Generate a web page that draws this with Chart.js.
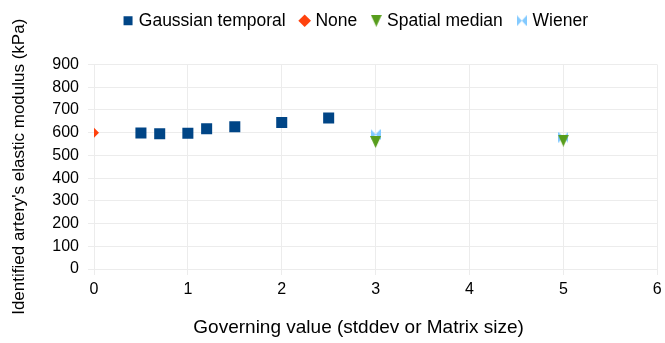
<!DOCTYPE html>
<html>
<head>
<meta charset="utf-8">
<script src="https://cdn.jsdelivr.net/npm/chart.js@4/dist/chart.umd.min.js"></script>
<style>
  html, body { margin: 0; padding: 0; background: #ffffff; }
  #wrap { width: 665px; height: 343px; }
</style>
</head>
<body>
<div id="wrap"><canvas id="chart" width="665" height="343"></canvas></div>
<script>
// Identified elastic modulus for each filter against its governing value
const gaussianX = [0.5, 0.7, 1.0, 1.2, 1.5, 2.0, 2.5];
const gaussianY = [599, 595, 597, 617, 626, 645, 665];
const noneX = [0];
const noneY = [600];
const medianX = [3, 5];
const medianY = [559, 565];
const wienerX = [3, 5];
const wienerY = [592, 580];

const xTicks = [0, 1, 2, 3, 4, 5, 6];
const yTicks = [0, 100, 200, 300, 400, 500, 600, 700, 800, 900];

const seriesNames = ['Gaussian temporal', 'None', 'Spatial median', 'Wiener'];
const seriesColors = ['#004586', '#ff420e', '#579d1c', '#83caff'];

const FONT = "'Liberation Sans', Arial, sans-serif";

function toPoints(xs, ys) {
  return xs.map((x, i) => ({ x: x, y: ys[i] }));
}

// Downward triangle symbol, centred in its bounding box
function triangleSymbol(color, w, h) {
  const c = document.createElement('canvas');
  c.width = w; c.height = h;
  const g = c.getContext('2d');
  g.fillStyle = color;
  g.beginPath();
  g.moveTo(0, 0);
  g.lineTo(w, 0);
  g.lineTo(w / 2, h);
  g.closePath();
  g.fill();
  return c;
}

// Bow-tie symbol: two triangles pointing towards the centre
function bowtieSymbol(color, w, h) {
  const c = document.createElement('canvas');
  c.width = w; c.height = h;
  const g = c.getContext('2d');
  g.fillStyle = color;
  g.beginPath();
  g.moveTo(0, 0);
  g.lineTo(w / 2, h / 2);
  g.lineTo(0, h);
  g.closePath();
  g.moveTo(w, 0);
  g.lineTo(w / 2, h / 2);
  g.lineTo(w, h);
  g.closePath();
  g.fill();
  return c;
}

const medianSymbol = triangleSymbol(seriesColors[2], 11, 12);
const wienerSymbol = bowtieSymbol(seriesColors[3], 10, 11);

// Moves the legend block after layout: centred over the plot, close to the top edge
const legendOffset = {
  id: 'legendOffset',
  afterLayout(chart) {
    const lg = chart.legend;
    if (!lg) return;
    const dx = 27, dy = -25;
    lg.left += dx; lg.right += dx;
    lg.top += dy; lg.bottom += dy;
  }
};

// Shifts an axis title sideways when it is drawn
function shiftTitle(axis, dx) {
  if (axis._titleShifted) return;
  const original = axis.drawTitle.bind(axis);
  axis.drawTitle = function () {
    const ctx = this.ctx;
    ctx.save();
    ctx.translate(dx, 0);
    original();
    ctx.restore();
  };
  axis._titleShifted = true;
}

const data = {
  datasets: [
    {
      label: seriesNames[0],
      data: toPoints(gaussianX, gaussianY),
      pointStyle: 'rect',
      pointRadius: 7.8,
      pointHoverRadius: 7.8,
      backgroundColor: seriesColors[0],
      borderColor: seriesColors[0],
      borderWidth: 0
    },
    {
      label: seriesNames[1],
      data: toPoints(noneX, noneY),
      pointStyle: 'rectRot',
      pointRadius: 5,
      pointHoverRadius: 5,
      backgroundColor: seriesColors[1],
      borderColor: seriesColors[1],
      borderWidth: 0
    },
    {
      label: seriesNames[2],
      data: toPoints(medianX, medianY),
      pointStyle: medianSymbol,
      backgroundColor: seriesColors[2],
      borderColor: seriesColors[2],
      borderWidth: 0
    },
    {
      label: seriesNames[3],
      data: toPoints(wienerX, wienerY),
      pointStyle: wienerSymbol,
      backgroundColor: seriesColors[3],
      borderColor: seriesColors[3],
      borderWidth: 0
    }
  ]
};

const chart = new Chart(document.getElementById('chart'), {
  type: 'scatter',
  data: data,
  plugins: [legendOffset],
  options: {
    responsive: false,
    animation: false,
    events: [],
    layout: { padding: { top: 20, right: 5, left: 0, bottom: 4 } },
    plugins: {
      tooltip: { enabled: false },
      legend: {
        position: 'top',
        align: 'center',
        labels: {
          usePointStyle: true,
          boxWidth: 4,
          boxHeight: 9,
          padding: 17,
          color: '#000000',
          font: { family: FONT, size: 17.5 }
        }
      }
    },
    scales: {
      x: {
        type: 'linear',
        min: 0,
        max: 6,
        afterBuildTicks: (axis) => { axis.ticks = xTicks.map(v => ({ value: v })); },
        afterFit: (axis) => {
          axis.height = 70;
          axis.paddingRight = 0;
          shiftTitle(axis, -17);
        },
        grid: { color: '#ececec', tickLength: 6, drawTicks: true },
        border: { color: '#ececec' },
        ticks: {
          color: '#000000',
          padding: 5,
          font: { family: FONT, size: 16 }
        },
        title: {
          display: true,
          text: 'Governing value (stddev or Matrix size)',
          color: '#000000',
          font: { family: FONT, size: 19 },
          padding: { top: 7, bottom: 0 }
        }
      },
      y: {
        type: 'linear',
        min: 0,
        max: 900,
        afterBuildTicks: (axis) => { axis.ticks = yTicks.map(v => ({ value: v })); },
        afterFit: (axis) => { axis.width = 94; },
        grid: { color: '#ececec', tickLength: 6, drawTicks: true },
        border: { color: '#ececec' },
        ticks: {
          color: '#000000',
          padding: 9,
          font: { family: FONT, size: 16 }
        },
        title: {
          display: true,
          text: "Identified artery's elastic modulus (kPa)",
          color: '#000000',
          font: { family: FONT, size: 17 },
          padding: { top: 9, bottom: 4 }
        }
      }
    }
  }
});
</script>
</body>
</html>
